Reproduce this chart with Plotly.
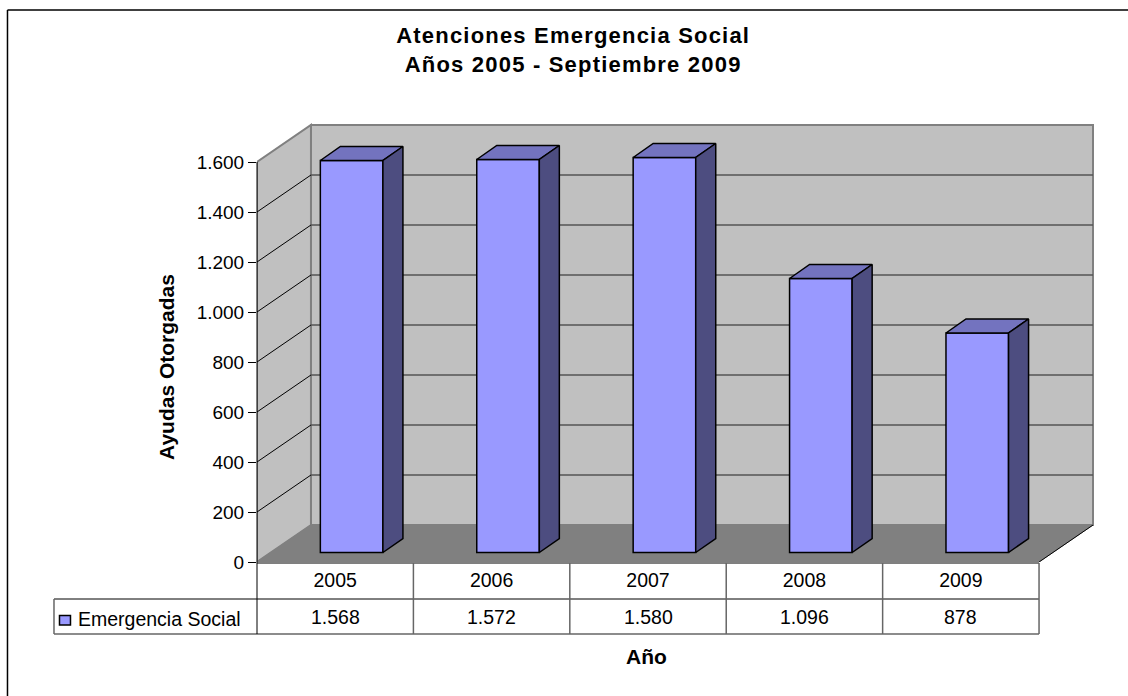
import plotly.graph_objects as go

years = ["2005", "2006", "2007", "2008", "2009"]
values = [1568, 1572, 1580, 1096, 878]
y_ticks = [0, 200, 400, 600, 800, 1000, 1200, 1400, 1600]
y_tick_text = ["0", "200", "400", "600", "800", "1.000", "1.200", "1.400", "1.600"]
series_name = "Emergencia Social"
title_text = "<b>Atenciones Emergencia Social<br>Años 2005 - Septiembre 2009</b>"
x_title = "<b>Año</b>"
y_title = "<b>Ayudas Otorgadas</b>"

W, H = 1128, 696
FONT = "Liberation Sans, Arial, sans-serif"
FS = 19.5
FS_BOLD = 21

# plot-area geometry
CELL = 156.4
PX_Y = 0.25
L, BOTTOM = 257, 562
DX = 0.345
DY = 148
YTOP = 1600 + DY
PAD_R, PAD_T = 3, 3
x_max = 5 + DX + PAD_R / CELL
y_max = YTOP + PAD_T / PX_Y
R_MARGIN = W - (L + x_max * CELL)
T_MARGIN = BOTTOM - y_max * PX_Y
plot_w = x_max * CELL
plot_h = y_max * PX_Y

BAR_W = 0.4
BAR_SHIFT = 0.105
BAR_BASE = 38
BD_X, BD_Y = 0.128, 56

FRONT, TOP, SIDE = "#9999FF", "#7373BF", "#4D4D80"


def px(x):
    return (x - L) / plot_w


def py(y):
    return (BOTTOM - y) / plot_h


centers = [i + 0.5 + BAR_SHIFT for i in range(len(values))]
fig = go.Figure()
fig.add_bar(
    x=centers, y=values, base=BAR_BASE, width=BAR_W, name=series_name,
    marker=dict(color=FRONT, line=dict(color="black", width=1.5)),
    showlegend=False,
)
for c, v in zip(centers, values):
    x0, x1 = c - BAR_W / 2, c + BAR_W / 2
    t = v + BAR_BASE
    fig.add_scatter(x=[x0, x0 + BD_X, x1 + BD_X, x1, x0], y=[t, t + BD_Y, t + BD_Y, t, t],
                    mode="lines", fill="toself", fillcolor=TOP,
                    line=dict(color="black", width=1.5), showlegend=False, hoverinfo="skip")
    fig.add_scatter(x=[x1, x1 + BD_X, x1 + BD_X, x1, x1],
                    y=[BAR_BASE, BAR_BASE + BD_Y, t + BD_Y, t, BAR_BASE],
                    mode="lines", fill="toself", fillcolor=SIDE,
                    line=dict(color="black", width=1.5), showlegend=False, hoverinfo="skip")

shapes = []


def poly(points, fill, line=None, width=0):
    d = "M " + " L ".join(f"{a},{b}" for a, b in points) + " Z"
    shapes.append(dict(type="path", path=d, xref="x", yref="y", layer="below",
                       fillcolor=fill, line=dict(color=line or fill, width=width)))


# walls and floor
poly([(DX, DY), (5 + DX, DY), (5 + DX, YTOP), (DX, YTOP)], "#C0C0C0", "#808080", 2)
poly([(0, 0), (DX, DY), (DX, YTOP), (0, 1600)], "#C0C0C0", "#808080", 2)
for t in y_ticks[1:-1]:
    shapes.append(dict(type="line", xref="x", yref="y", layer="below", x0=DX, x1=5 + DX,
                       y0=t + DY, y1=t + DY, line=dict(color="#555555", width=1.5)))
for t in y_ticks[1:-1]:
    shapes.append(dict(type="line", xref="x", yref="y", layer="below", x0=0, x1=DX,
                       y0=t, y1=t + DY, line=dict(color="black", width=1)))
poly([(0, 0), (5, 0), (5 + DX, DY), (DX, DY)], "#808080", "#808080", 1)
shapes.append(dict(type="line", xref="x", yref="y", layer="below", x0=5, x1=5 + DX, y0=0, y1=DY,
                   line=dict(color="black", width=1)))


def pline(x0, y0, x1, y1, color="black", width=1):
    shapes.append(dict(type="line", xref="paper", yref="paper", x0=px(x0), x1=px(x1),
                       y0=py(y0), y1=py(y1), line=dict(color=color, width=width)))


# value axis line
pline(L, 162, L, 562)
# data table
TABLE_R = L + 5 * CELL
pline(L, 563, TABLE_R, 563)
pline(54, 599, TABLE_R, 599)
pline(54, 634, TABLE_R, 634, "#666666", 1.5)
pline(54, 599, 54, 634, "#666666", 1.5)
pline(L, 562, L, 634)
for i in range(1, 6):
    xc = L + i * CELL
    pline(xc, 563, xc, 634, "#666666", 1.5)
# outer frame
pline(7.5, 10, W, 10, "black", 1.5)
pline(7.5, 10, 7.5, H, "black", 1.5)
# legend key
shapes.append(dict(type="rect", xref="paper", yref="paper", x0=px(59.5), x1=px(70.5),
                   y0=py(615.5), y1=py(625), fillcolor=FRONT, line=dict(color="black", width=1.5)))

annotations = [
    dict(text=title_text, xref="paper", yref="paper", x=px(572.5), y=py(50), showarrow=False,
         xanchor="center", yanchor="middle", font=dict(size=22, color="black", family=FONT),
         align="center"),
    dict(text=x_title, xref="paper", yref="paper", x=px(646), y=py(656), showarrow=False,
         xanchor="center", yanchor="middle", font=dict(size=FS_BOLD, color="black", family=FONT)),
    dict(text=y_title, xref="paper", yref="paper", x=px(166), y=py(367), showarrow=False,
         textangle=-90, xanchor="center", yanchor="middle",
         font=dict(size=FS_BOLD, color="black", family=FONT)),
    dict(text=series_name, xref="paper", yref="paper", x=px(76.5), y=py(619), showarrow=False,
         xanchor="left", yanchor="middle", font=dict(size=FS, color="black", family=FONT)),
]
for i, v in enumerate(values):
    s = f"{v:,}".replace(",", ".")
    annotations.append(dict(text=s, xref="x", yref="paper", x=i + 0.5, y=py(617), showarrow=False,
                            xanchor="center", yanchor="middle",
                            font=dict(size=FS, color="black", family=FONT)))

fig.update_layout(
    width=W, height=H, autosize=False,
    margin=dict(l=L, r=R_MARGIN, t=T_MARGIN, b=H - BOTTOM, pad=0),
    paper_bgcolor="white", plot_bgcolor="rgba(0,0,0,0)",
    font=dict(family=FONT, color="black", size=FS),
    shapes=shapes, annotations=annotations, showlegend=False,
    xaxis=dict(range=[0, x_max], tickmode="array", tickvals=[i + 0.5 for i in range(5)],
               ticktext=years, ticks="", showgrid=False, zeroline=False, showline=False,
               tickfont=dict(size=FS, family=FONT, color="black"), ticklabelstandoff=4),
    yaxis=dict(range=[0, y_max], tickmode="array", tickvals=y_ticks, ticktext=y_tick_text,
               ticks="outside", ticklen=8, tickcolor="black", tickwidth=1, showgrid=False,
               zeroline=False, showline=False,
               tickfont=dict(size=19, family=FONT, color="black")),
)
fig.write_html(
    "out.html",
    config={"displayModeBar": False},
    post_script=(
        "document.body.style.margin='0';"
        "var t=document.querySelector('.annotation-text');"
        "if(t){t.style.letterSpacing='1.2px';}"
    ),
)
